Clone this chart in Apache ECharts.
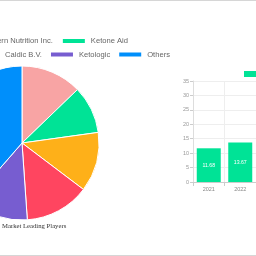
<!DOCTYPE html>
<html>
<head>
<meta charset="utf-8">
<script src="https://cdn.jsdelivr.net/npm/echarts@6/dist/echarts.min.js"></script>
<style>
html,body{margin:0;padding:0;background:#fff;overflow:hidden;}
#c{width:256px;height:256px;}
</style>
</head>
<body>
<div id="c"></div>
<script>
// Pie: leading players share
const playerNames = ['Western Nutrition Inc.', 'Ketone Aid', 'Perfect Keto', 'Caldic B.V.', 'Ketologic', 'Others'];
const playerShares = [12.8, 10.0, 12.5, 13.6, 12.5, 38.6];
const playerColors = ['#f8a4a4', '#00e396', '#feb019', '#ff4560', '#775dd0', '#008ffb'];
const legendRow1 = ['Western Nutrition Inc.', 'Ketone Aid'];
const legendRow2 = ['Perfect Keto', 'Caldic B.V.', 'Ketologic', 'Others'];
const pieTitle = 'Market Leading Players';

// Bar: market size by year
const years = ['2021', '2022'];
const marketSize = [11.68, 13.67];
const barSeriesName = 'Market Size';
const yTicks = { min: 0, max: 35, interval: 5 };

const chart = echarts.init(document.getElementById('c'), null, {renderer: 'canvas'});
const legendText = {fontSize: 7.6, color: '#666', fontFamily: 'Liberation Sans, Arial, sans-serif', lineHeight: 10};
chart.setOption({
  animation: false,
  color: playerColors,
  title: {
    text: pieTitle,
    left: 2, top: 223, padding: 0,
    textStyle: {fontSize: 6.7, fontWeight: 'normal', color: '#333', fontFamily: 'Liberation Serif, Times New Roman, serif'}
  },
  legend: [
    {data: legendRow1, right: 128, width: 500, top: 36, padding: 0, itemWidth: 24, itemHeight: 6, itemGap: 8,
     align: 'left', icon: 'rect', textStyle: legendText},
    {data: legendRow2, right: 86, width: 500, top: 49.5, padding: 0, itemWidth: 24, itemHeight: 6, itemGap: 7,
     align: 'left', icon: 'rect', textStyle: legendText},
    {data: [barSeriesName], left: 244, width: 200, top: 69, padding: 0, itemWidth: 24, itemHeight: 6,
     align: 'left', icon: 'rect', textStyle: legendText}
  ],
  grid: {left: 193, top: 81, width: 66.7, height: 101, containLabel: false},
  xAxis: {
    type: 'category', data: years,
    axisLine: {show: true, lineStyle: {color: '#ccc'}},
    axisTick: {show: true, length: 4, lineStyle: {color: '#ccc'}},
    splitLine: {show: true, lineStyle: {color: '#eee'}},
    axisLabel: {fontSize: 5.5, color: '#888', margin: 4}
  },
  yAxis: {
    type: 'value', min: yTicks.min, max: yTicks.max, interval: yTicks.interval,
    axisLine: {show: true, lineStyle: {color: '#ddd'}},
    axisTick: {show: true, length: 3, lineStyle: {color: '#ccc'}},
    splitLine: {show: true, lineStyle: {color: '#eee'}},
    axisLabel: {fontSize: 5.5, color: '#999', margin: 4}
  },
  series: [
    {
      type: 'pie', center: [22, 143], radius: 77,
      label: {show: false}, labelLine: {show: false},
      itemStyle: {borderColor: '#fff', borderWidth: 1},
      data: playerNames.map((n, i) => ({name: n, value: playerShares[i]}))
    },
    {
      type: 'bar', name: barSeriesName, data: marketSize, barWidth: 24,
      itemStyle: {color: '#00e396'},
      label: {show: true, position: 'inside', color: '#fff', fontSize: 5.2}
    }
  ],
  graphic: [
    {type: 'line', shape: {x1: 0, y1: 0.5, x2: 256, y2: 0.5}, style: {stroke: '#d6d6d6', lineWidth: 1}, silent: true},
    {type: 'line', shape: {x1: 0, y1: 255.5, x2: 256, y2: 255.5}, style: {stroke: '#d6d6d6', lineWidth: 1}, silent: true}
  ]
});
</script>
</body>
</html>
